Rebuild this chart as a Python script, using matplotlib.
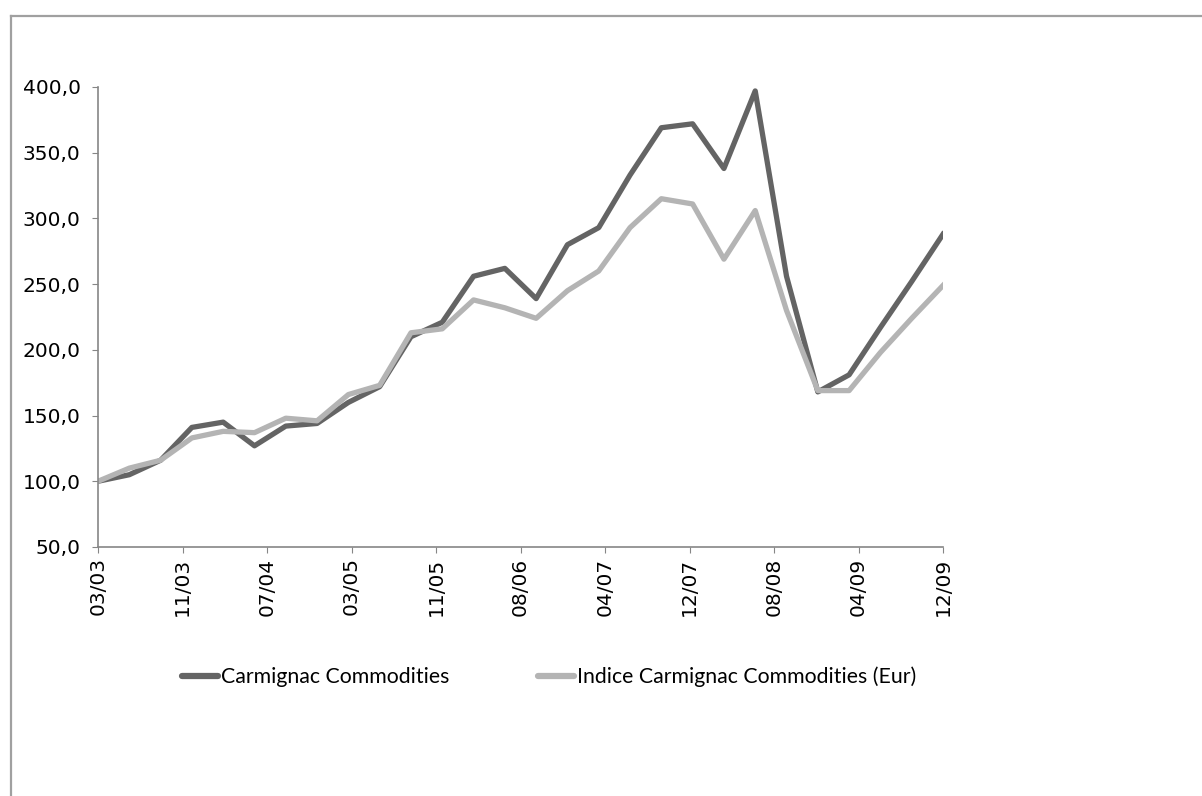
import numpy as np
import matplotlib
matplotlib.use("Agg")
import matplotlib.pyplot as plt
from matplotlib.lines import Line2D
from matplotlib.ticker import FuncFormatter

# quarterly values, base 100 in 03/03
fund = [100, 105, 116, 141, 145, 127, 142, 144, 160, 172, 210, 221, 256, 262,
        239, 280, 293, 333, 369, 372, 338, 397, 256, 168, 181, 217, 252, 288]
index = [100, 110, 116, 133, 138, 137, 148, 146, 166, 173, 213, 216, 238, 232,
         224, 245, 260, 293, 315, 311, 269, 306, 230, 169, 169, 198, 224, 249]
tick_labels = ["03/03", "11/03", "07/04", "03/05", "11/05", "08/06",
               "04/07", "12/07", "08/08", "04/09", "12/09"]
series_names = ["Carmignac Commodities", "Indice Carmignac Commodities (Eur)"]

months = np.arange(len(fund)) * 3  # months since 03/03

fig = plt.figure(figsize=(12.02, 7.96), dpi=100)
ax = fig.add_axes([98 / 1202, 1 - 547 / 796, 845 / 1202, 460 / 796])

ax.plot(months, fund, color="#646464", lw=3.8, label=series_names[0])
ax.plot(months, index, color="#b4b4b4", lw=3.8, label=series_names[1])

ax.set_xlim(0, months[-1])
ax.set_ylim(50, 400)
ax.set_yticks(np.arange(50, 401, 50))
ax.yaxis.set_major_formatter(FuncFormatter(lambda v, p: f"{v:.1f}".replace(".", ",")))
ax.set_xticks(np.linspace(0, months[-1], len(tick_labels)))
ax.set_xticklabels(tick_labels, rotation=90)

for s in ["top", "right"]:
    ax.spines[s].set_visible(False)
for s in ["left", "bottom"]:
    ax.spines[s].set_color("#868686")
    ax.spines[s].set_linewidth(1.2)
ax.tick_params(axis="y", length=4.5, color="#868686", pad=8, labelsize=14.5)
ax.tick_params(axis="x", length=4.5, color="#868686", pad=3, labelsize=14.5)

leg = fig.legend(loc="center", bbox_to_anchor=(549 / 1202, 1 - 677 / 796), ncol=2,
                 frameon=False, prop={"family": "Lato", "size": 15.3},
                 handlelength=1.7, handletextpad=0.12, columnspacing=4.2)
for h in leg.legend_handles:
    h.set_solid_capstyle("round")
    h.set_linewidth(4.5)

# chart border (left and top edges)
fig.add_artist(Line2D([11 / 1202, 11 / 1202], [0, 1 - 16 / 796],
                      transform=fig.transFigure, color="#a0a0a0", lw=1.6))
fig.add_artist(Line2D([11 / 1202, 1], [1 - 16 / 796, 1 - 16 / 796],
                      transform=fig.transFigure, color="#a0a0a0", lw=1.6))

fig.savefig("out.png", dpi=100)
